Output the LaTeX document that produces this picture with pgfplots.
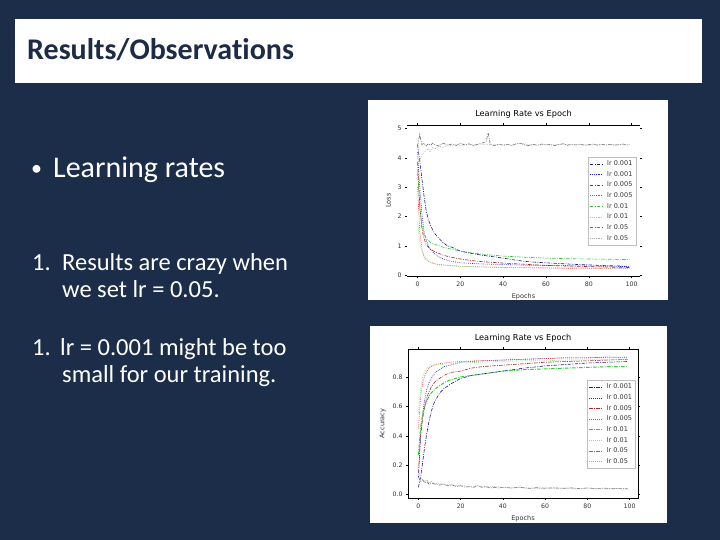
\documentclass[border=0pt]{standalone}
\usepackage{fontspec}
\setmainfont{Carlito}[Ligatures=CommonOff]
\newfontfamily\dejavu{DejaVu Sans}
\usepackage{pgfplots}
\pgfplotsset{compat=1.18}
\definecolor{slidebg}{HTML}{1C2D4A}
\definecolor{titleblue}{HTML}{1E2B44}
\definecolor{cA}{HTML}{1A1A8C}
\definecolor{cB}{HTML}{2424E0}
\definecolor{cC}{HTML}{B22222}
\definecolor{cD}{HTML}{FF3535}
\definecolor{cE}{HTML}{33CC33}
\definecolor{cF}{HTML}{85E585}
\definecolor{cG}{HTML}{707070}
\definecolor{cH}{HTML}{ABABAB}

\pgfplotsset{
  dd/.style={dash pattern=on 3.5pt off 1.3pt on 0.9pt off 1.3pt},
  dt/.style={dash pattern=on 0.8pt off 1.1pt},
  lrchart/.style={
    scale only axis,
    xmin=-4.95, xmax=103.95,
    xtick={0,20,...,100},
    tick align=outside, major tick length=2pt,
    tick style={line width=0.4pt, black},
    axis line style={line width=0.5pt},
    /pgf/number format/assume math mode=true,
    tick label style={font=\dejavu\fontsize{6.2}{7}\selectfont, text=black!80},
    label style={font=\dejavu\fontsize{6.5}{7}\selectfont, text=black!80},
    title style={font=\dejavu\fontsize{8.2}{9}\selectfont, yshift=-3pt},
    title={Learning Rate vs Epoch},
    xlabel={Epochs},
    legend cell align=left,
    legend style={font=\dejavu\fontsize{6.5}{7}\selectfont, draw=black!25,
      line width=0.3pt, inner sep=1.5pt, row sep=0.2pt, text=black!80},
    legend image code/.code={\draw[#1] (0pt,0pt) -- (12pt,0pt); \path (15pt,0pt);},
    every axis plot/.append style={line width=0.6pt},
  },
}

\begin{document}
\begin{tikzpicture}[x=1pt,y=1pt]
\useasboundingbox (0,0) rectangle (720,540);
\fill[slidebg] (0,0) rectangle (720,540);
% title bar
\fill[white] (15,457) rectangle (702,521);
\node[anchor=base west, inner sep=0pt, text=titleblue, font=\fontsize{30}{32}\selectfont\bfseries] at (27,480.5) {Results/Observations};
% body text
\node[anchor=base west, inner sep=0pt, text=white, font=\fontsize{22}{24}\selectfont] at (31,364) {\textbullet};
\node[anchor=base west, inner sep=0pt, text=white, font=\fontsize{30}{32}\selectfont] at (53,362) {Learning rates};
\begin{scope}[every node/.style={anchor=base west, inner sep=0pt, text=white, font=\fontsize{24.5}{26}\selectfont}]
\node at (32,269) {1.};
\node at (62,269) {Results are crazy when};
\node at (62,242) {we set lr = 0.05.};
\node at (32,184) {1.};
\node at (60,184) {lr = 0.001 might be too};
\node at (62,157) {small for our training.};
\end{scope}
% chart panels
\fill[white] (368,240) rectangle (668,440);
\fill[white] (370,17) rectangle (667,214);

\begin{axis}[lrchart,
  at={(407pt,264pt)}, anchor=south west,
  width=233pt, height=151pt,
  ymin=-0.03, ymax=5.12, ytick={0,1,2,3,4,5},
  separate axis lines, y axis line style={draw=none},
  ylabel={Loss},
  legend style={at={(0.983,0.788)}, anchor=north east},
]
\addplot[cA, dd] coordinates {(0,4.45) (1,3.9) (2,3.3) (3,2.7) (4,2.2) (5,1.9) (6,1.7) (7,1.55) (8,1.42) (10,1.25) (12,1.1) (14,1.0) (16,0.95) (18,0.88) (20,0.82) (25,0.74) (30,0.68) (35,0.63) (40,0.58) (45,0.52) (50,0.47) (55,0.44) (60,0.42) (65,0.4) (70,0.38) (75,0.36) (80,0.35) (85,0.33) (90,0.32) (95,0.31) (99,0.3)};
\addplot[cB, dt] coordinates {(0,4.2) (1,3.0) (2,2.1) (3,1.5) (4,1.2) (5,1.0) (6,0.88) (8,0.72) (10,0.62) (12,0.55) (15,0.48) (20,0.42) (25,0.4) (30,0.38) (40,0.36) (50,0.34) (60,0.33) (70,0.32) (80,0.31) (90,0.3) (99,0.29)};
\addplot[cC, dd] coordinates {(0,3.85) (1,2.4) (2,1.6) (3,1.25) (4,1.05) (5,0.95) (6,0.88) (8,0.8) (10,0.74) (12,0.68) (15,0.62) (20,0.55) (25,0.5) (30,0.46) (40,0.41) (50,0.37) (60,0.33) (70,0.31) (80,0.29) (90,0.27) (99,0.26)};
\addplot[cD, dt] coordinates {(0,3.0) (1,1.5) (2,0.9) (3,0.65) (4,0.55) (5,0.48) (6,0.44) (8,0.39) (10,0.36) (15,0.33) (20,0.3) (30,0.28) (40,0.26) (50,0.25) (60,0.24) (70,0.23) (80,0.23) (90,0.22) (99,0.22)};
\addplot[cE, dd] coordinates {(0,3.5) (1,2.3) (2,1.7) (3,1.4) (4,1.25) (5,1.18) (6,1.12) (8,1.05) (10,1.0) (12,0.95) (15,0.9) (20,0.82) (25,0.76) (30,0.72) (35,0.68) (40,0.65) (50,0.61) (60,0.58) (70,0.56) (80,0.55) (90,0.54) (99,0.53)};
\addplot[cF, dt] coordinates {(0,1.8) (1,1.1) (2,0.8) (3,0.62) (4,0.52) (5,0.47) (6,0.43) (8,0.38) (10,0.35) (15,0.32) (20,0.3) (30,0.28) (40,0.27) (50,0.26) (60,0.26) (70,0.25) (80,0.25) (90,0.24) (99,0.24)};
\addplot[cG, dd] coordinates {(0,4.4) (1,4.8) (2,4.45) (3,4.5) (4,4.4) (5,4.48) (6,4.42) (7,4.5) (8,4.45) (10,4.4) (12,4.5) (14,4.43) (16,4.47) (18,4.42) (20,4.5) (22,4.44) (24,4.48) (26,4.42) (28,4.46) (30,4.5) (32,4.55) (33,4.85) (34,4.45) (36,4.42) (38,4.47) (40,4.43) (42,4.46) (44,4.42) (46,4.48) (48,4.5) (50,4.44) (52,4.42) (54,4.46) (56,4.43) (58,4.47) (60,4.44) (62,4.46) (64,4.42) (66,4.45) (68,4.48) (70,4.43) (72,4.46) (74,4.44) (76,4.47) (78,4.43) (80,4.45) (82,4.47) (84,4.43) (86,4.46) (88,4.44) (90,4.46) (92,4.43) (94,4.45) (96,4.47) (98,4.44) (99,4.45)};
\addplot[cH, dt] coordinates {(0,4.0) (1,3.9) (2,4.1) (3,4.2) (4,4.25) (5,4.3) (6,4.2) (7,4.35) (8,4.3) (10,4.4) (12,4.35) (14,4.45) (16,4.4) (18,4.47) (20,4.42) (24,4.45) (28,4.43) (32,4.47) (36,4.44) (40,4.46) (44,4.43) (48,4.5) (52,4.45) (56,4.43) (60,4.46) (64,4.44) (68,4.47) (72,4.44) (76,4.45) (80,4.43) (84,4.46) (88,4.44) (92,4.45) (96,4.44) (99,4.45)};
\legend{lr 0.001, lr 0.001, lr 0.005, lr 0.005, lr 0.01, lr 0.01, lr 0.05, lr 0.05}
\end{axis}

\begin{axis}[lrchart,
  at={(408pt,42pt)}, anchor=south west,
  width=230pt, height=149pt,
  ymin=-0.023, ymax=0.99, ytick={0,0.2,0.4,0.6,0.8},
  yticklabel style={/pgf/number format/.cd, fixed, fixed zerofill, precision=1},
  ylabel={Accuracy},
  legend style={at={(0.99,0.79)}, anchor=north east},
]
\addplot[cA, dd] coordinates {(0,0.05) (1,0.12) (2,0.22) (3,0.33) (4,0.42) (5,0.5) (6,0.56) (7,0.61) (8,0.64) (10,0.69) (12,0.72) (15,0.75) (20,0.79) (25,0.81) (30,0.82) (40,0.84) (50,0.86) (60,0.875) (70,0.885) (80,0.895) (90,0.9) (99,0.905)};
\addplot[cB, dt] coordinates {(0,0.12) (1,0.4) (2,0.55) (3,0.65) (4,0.72) (5,0.76) (6,0.79) (8,0.83) (10,0.85) (12,0.87) (15,0.88) (20,0.9) (30,0.91) (40,0.915) (50,0.92) (60,0.925) (70,0.93) (80,0.93) (90,0.935) (99,0.935)};
\addplot[cC, dd] coordinates {(0,0.15) (1,0.4) (2,0.52) (3,0.6) (4,0.66) (5,0.7) (6,0.73) (8,0.77) (10,0.79) (12,0.81) (15,0.83) (20,0.84) (25,0.86) (30,0.87) (40,0.88) (50,0.89) (60,0.9) (70,0.905) (80,0.91) (90,0.915) (99,0.92)};
\addplot[cD, dt] coordinates {(0,0.45) (1,0.66) (2,0.76) (3,0.81) (4,0.84) (5,0.86) (6,0.87) (8,0.885) (10,0.89) (15,0.9) (20,0.905) (30,0.91) (40,0.915) (50,0.92) (60,0.925) (70,0.93) (80,0.93) (90,0.935) (99,0.93)};
\addplot[cE, dd, line width=1pt] coordinates {(0,0.27) (1,0.45) (2,0.55) (3,0.6) (4,0.64) (5,0.67) (6,0.69) (8,0.72) (10,0.74) (12,0.76) (15,0.78) (20,0.8) (25,0.81) (30,0.82) (40,0.84) (50,0.85) (60,0.855) (70,0.86) (80,0.865) (90,0.87) (99,0.87)};
\addplot[cF, dt] coordinates {(0,0.55) (1,0.72) (2,0.8) (3,0.84) (4,0.86) (5,0.87) (6,0.875) (8,0.88) (10,0.885) (15,0.89) (20,0.895) (30,0.9) (40,0.905) (50,0.91) (60,0.91) (70,0.915) (80,0.915) (90,0.92) (99,0.92)};
\addplot[cG, dd] coordinates {(0,0.12) (1,0.09) (2,0.1) (3,0.08) (4,0.09) (5,0.07) (6,0.08) (8,0.07) (10,0.065) (12,0.07) (14,0.06) (16,0.065) (18,0.055) (20,0.06) (22,0.05) (24,0.055) (26,0.05) (28,0.06) (30,0.05) (32,0.055) (34,0.045) (36,0.05) (38,0.045) (40,0.05) (44,0.045) (48,0.05) (52,0.042) (56,0.048) (60,0.043) (64,0.047) (68,0.042) (72,0.046) (76,0.041) (80,0.045) (84,0.041) (88,0.044) (92,0.04) (96,0.043) (99,0.04)};
\addplot[cH, dt] coordinates {(0,0.17) (1,0.11) (2,0.1) (3,0.09) (4,0.1) (5,0.08) (6,0.09) (8,0.075) (10,0.08) (12,0.07) (14,0.065) (16,0.07) (18,0.06) (20,0.065) (24,0.055) (28,0.06) (32,0.05) (36,0.055) (40,0.05) (44,0.045) (48,0.05) (52,0.045) (56,0.04) (60,0.045) (64,0.04) (68,0.045) (72,0.04) (76,0.04) (80,0.045) (84,0.04) (88,0.04) (92,0.04) (96,0.04) (99,0.035)};
\legend{lr 0.001, lr 0.001, lr 0.005, lr 0.005, lr 0.01, lr 0.01, lr 0.05, lr 0.05}
\end{axis}
\end{tikzpicture}
\end{document}
